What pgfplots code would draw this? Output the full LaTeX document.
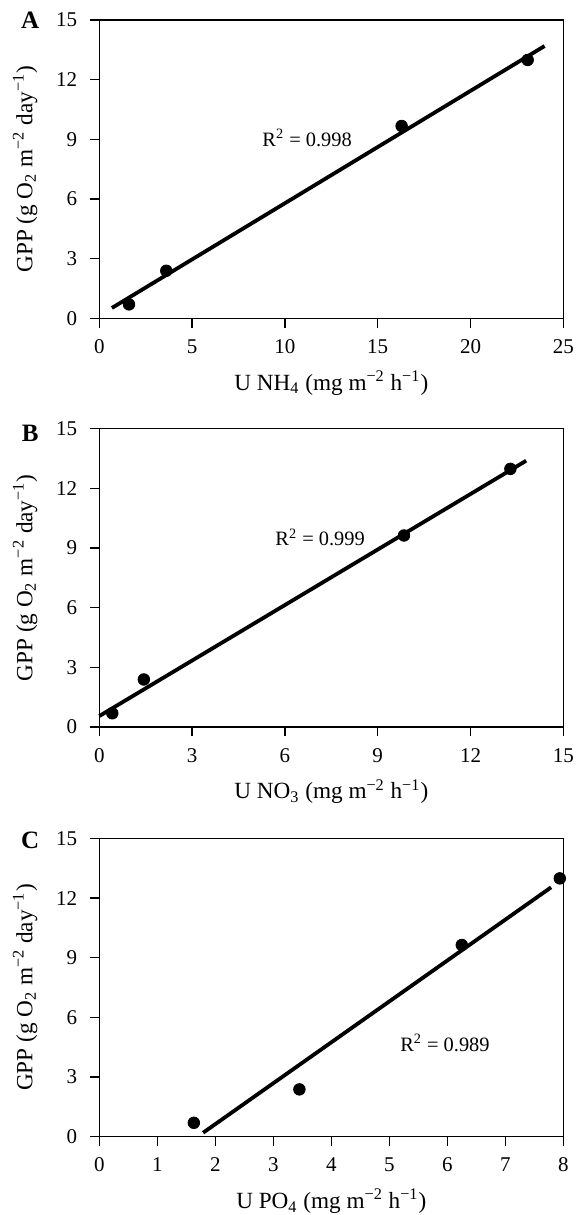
\documentclass[border=0pt]{standalone}
\usepackage{fontspec}
\setmainfont{Liberation Serif}
\usepackage{pgfplots}
\pgfplotsset{compat=1.18}

% shared look of the three panels
\pgfplotsset{
  gpp/.style={
    scale only axis, width=232pt, height=149.15pt,
    anchor=south west,
    axis line style={line width=0.7pt, black},
    tick style={line width=0.7pt, black},
    tick align=outside, major tick length=4.6pt,
    xtick pos=bottom, ytick pos=left,
    ymin=0, ymax=15, ytick={0,3,...,15},
    tick label style={font=\fontsize{10.5}{12}\selectfont},
    xticklabel style={yshift=-2.5pt},
    yticklabel style={xshift=-3pt},
    /pgf/number format/assume math mode=true,
    label style={font=\fontsize{11.6}{14}\selectfont},
    ylabel={GPP (g O\textsubscript{2} m\textsuperscript{−2} day\textsuperscript{−1})},
    ylabel style={at={(axis description cs:-0.160,0.5)}, anchor=center},
    xlabel style={at={(axis description cs:0.5,-0.217)}, anchor=center},
    clip=false,
  },
  pts/.style={only marks, mark=*, mark size=2.9pt, black},
  fit/.style={no marks, black, line width=1.9pt},
}

\begin{document}
\begin{tikzpicture}
\path[use as bounding box] (-49.65pt,-448.35pt) rectangle (241.85pt,159.15pt);

% A
\begin{axis}[gpp, at={(0pt,0pt)},
  xmin=0, xmax=25, xtick={0,5,...,25},
  xlabel={U NH\textsubscript{4} (mg m\textsuperscript{−2} h\textsuperscript{−1})}]
  \addplot[fit] coordinates {(0.68,0.52) (23.99,13.69)};
  \addplot[pts] coordinates {(1.6,0.70) (3.61,2.39) (16.29,9.67) (23.08,12.99)};
  \node[font=\fontsize{10.2}{12}\selectfont] at (axis cs:11.2,9.07) {R\textsuperscript{2} = 0.998};
  \node[font=\bfseries\fontsize{12.5}{14}\selectfont] at (axis description cs:-0.149,1.0) {A};
\end{axis}

% B
\begin{axis}[gpp, at={(0pt,-204.35pt)},
  xmin=0, xmax=15, xtick={0,3,...,15},
  xlabel={U NO\textsubscript{3} (mg m\textsuperscript{−2} h\textsuperscript{−1})}]
  \addplot[fit] coordinates {(0,0.55) (13.8,13.39)};
  \addplot[pts] coordinates {(0.42,0.69) (1.44,2.39) (9.85,9.63) (13.29,12.98)};
  \node[font=\fontsize{10.2}{12}\selectfont] at (axis cs:7.14,9.53) {R\textsuperscript{2} = 0.999};
  \node[font=\bfseries\fontsize{12.5}{14}\selectfont] at (axis description cs:-0.149,0.983) {B};
\end{axis}

% C
\begin{axis}[gpp, at={(0pt,-409.2pt)},
  xmin=0, xmax=8, xtick={0,1,...,8},
  xlabel={U PO\textsubscript{4} (mg m\textsuperscript{−2} h\textsuperscript{−1})}]
  \addplot[fit] coordinates {(1.79,0.20) (7.79,12.54)};
  \addplot[pts] coordinates {(1.63,0.70) (3.45,2.38) (6.25,9.64) (7.94,12.99)};
  \node[font=\fontsize{10.2}{12}\selectfont] at (axis cs:5.96,4.72) {R\textsuperscript{2} = 0.989};
  \node[font=\bfseries\fontsize{12.5}{14}\selectfont] at (axis description cs:-0.149,0.994) {C};
\end{axis}
\end{tikzpicture}
\end{document}
